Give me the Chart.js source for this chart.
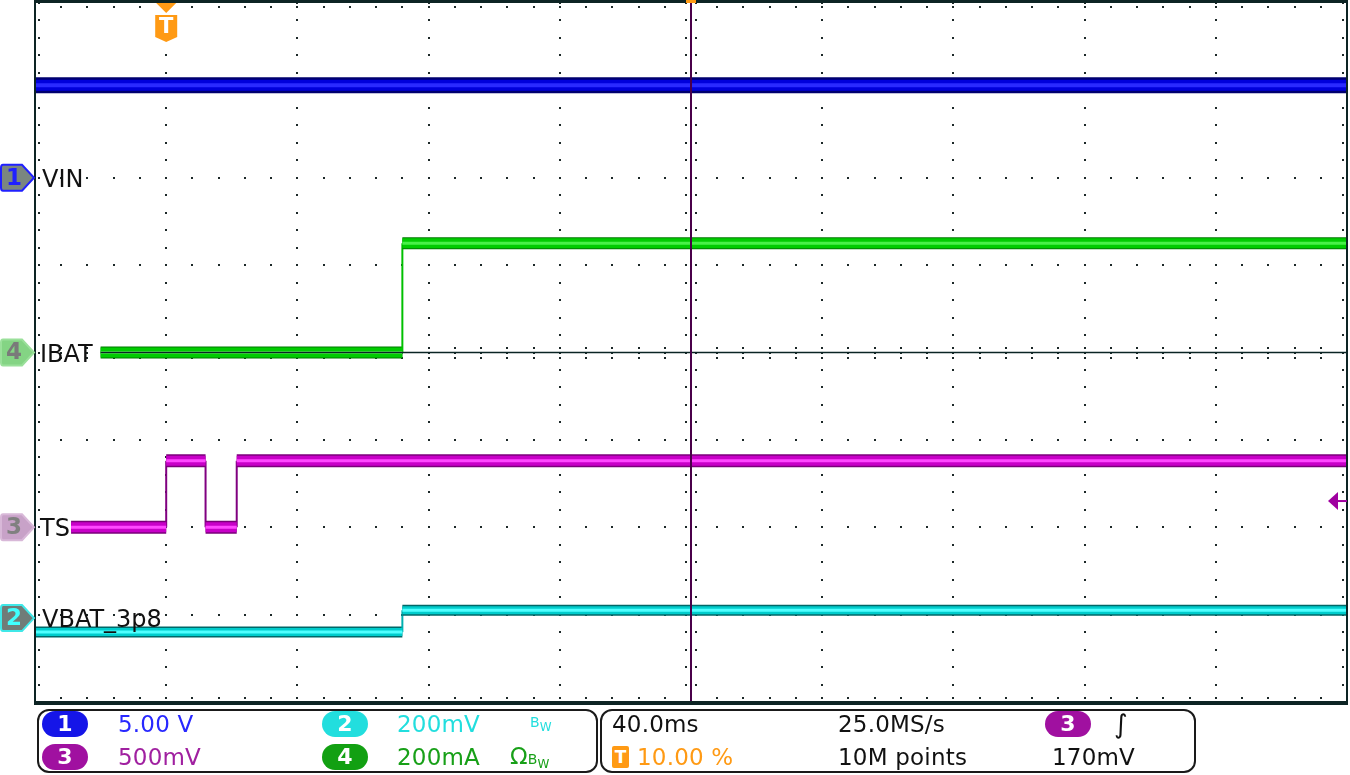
<!DOCTYPE html>
<html lang="en">
<head>
<meta charset="UTF-8">
<title>VIN / IBAT / TS / VBAT_3p8 capture</title>
<script src="https://cdn.jsdelivr.net/npm/chart.js"></script>
<style>
  html, body { margin: 0; padding: 0; background: #fff; }
  #wrap { position: relative; width: 1350px; height: 775px; overflow: hidden; font-family: "DejaVu Sans", sans-serif; }
  #scope { position: absolute; left: 0; top: 0; }
  .ch-label { position: absolute; font-size: 24px; line-height: 1; color: #111; white-space: nowrap; transform: translateY(-50%); }
  .box { position: absolute; top: 709px; height: 64px; border: 2px solid #1a1a1a; border-radius: 12px; box-sizing: border-box; }
  .txt { position: absolute; font-size: 23px; line-height: 1; white-space: nowrap; transform: translateY(-50%); letter-spacing: 0.2px; }
  .pill { position: absolute; width: 46px; height: 26px; border-radius: 13px; color: #fff; font-size: 22px; font-weight: bold; text-align: center; line-height: 26px; transform: translateY(-50%); }
  .bw { font-size: 14px; }
  .bw sub { font-size: 12px; vertical-align: -4px; }
  .r1 { top: 724px; }
  .r2 { top: 757px; }
</style>
</head>
<body>
<div id="wrap">
  <canvas id="scope" width="1350" height="775"></canvas>

  <div class="box" style="left:37px; width:561px;"></div>
  <div class="box" style="left:600px; width:596px;"></div>

  <div class="pill r1" style="left:42px; background:#1515e8;">1</div>
  <div class="txt r1" style="left:118px; color:#2828ff;">5.00 V</div>
  <div class="pill r1" style="left:322px; background:#22dede;">2</div>
  <div class="txt r1" style="left:397px; color:#22dede;">200mV</div>
  <div class="txt r1 bw" style="left:530px; color:#22dede;">B<sub>W</sub></div>

  <div class="pill r2" style="left:42px; background:#a010a0;">3</div>
  <div class="txt r2" style="left:118px; color:#a020a0;">500mV</div>
  <div class="pill r2" style="left:322px; background:#12a012;">4</div>
  <div class="txt r2" style="left:397px; color:#18a018;">200mA</div>
  <div class="txt r2" style="left:510px; color:#18a018;">Ω<span class="bw">B<sub>W</sub></span></div>

  <div class="txt r1" style="left:612px; color:#111;">40.0ms</div>
  <div class="txt r1" style="left:838px; color:#111;">25.0MS/s</div>
  <div class="pill r1" style="left:1045px; background:#a010a0;">3</div>
  <div class="txt r1" style="left:1114px; color:#111; font-size:26px;">∫</div>

  <div class="pill r2" style="left:612px; width:17px; height:22px; border-radius:2px; background:#ff9a14; font-size:17px; line-height:22px;">T</div>
  <div class="txt r2" style="left:637px; color:#ff9a14;">10.00 %</div>
  <div class="txt r2" style="left:838px; color:#111;">10M points</div>
  <div class="txt r2" style="left:1052px; color:#111;">170mV</div>
</div>

<script>
// time axis in ms (40 ms/div, trigger at 10 %), levels in screen divisions
const timeMin = -40, timeMax = 360, msPerDiv = 40;
const levelMin = -4, levelMax = 4;

const vinTime  = [-40, 360];
const vinLevel = [3.06, 3.06];

const ibatTime  = [-20, 72, 72, 360];
const ibatLevel = [0, 0, 1.25, 1.25];

const tsTime  = [-29, 0, 0, 12, 12, 21.5, 21.5, 360];
const tsLevel = [-2, -2, -1.24, -1.24, -2, -2, -1.24, -1.24];

const vbatTime  = [-40, 72, 72, 360];
const vbatLevel = [-3.2, -3.2, -2.95, -2.95];

const refTime  = [-20, 360];
const refLevel = [0, 0];

const markerChannels = ['1', '4', '3', '2'];
const markerNames    = ['VIN', 'IBAT', 'TS', 'VBAT_3p8'];
const markerLevels   = [2, 0, -2, -3.04];

const trigTime  = 0;
const trigLevel = -1.7;

const NONE = 'rgba(0,0,0,0)';

function layer(time, level, color, width, edgeColor, edgeWidth, order) {
    return {
        data: time.map((t, i) => ({ x: t, y: level[i] })),
        borderColor: color,
        borderWidth: width,
        pointRadius: 0,
        tension: 0,
        fill: false,
        borderCapStyle: 'butt',
        borderJoinStyle: 'miter',
        order: order,
        segment: {
            borderWidth: c => c.p0.parsed.x === c.p1.parsed.x ? edgeWidth : width,
            borderColor: c => c.p0.parsed.x === c.p1.parsed.x ? edgeColor : color
        }
    };
}

// each trace is a dark wide band, a coloured body and a light core
const datasets = [
    layer(vinTime, vinLevel, '#00006e', 16, '#0000d0', 2, 30),
    layer(vinTime, vinLevel, '#0000dc', 11, NONE, 1, 20),
    layer(vinTime, vinLevel, '#2a2aff', 4, NONE, 1, 10),

    layer(ibatTime, ibatLevel, '#007a00', 12, '#00c000', 2, 30),
    layer(ibatTime, ibatLevel, '#00cc00', 10, NONE, 1, 20),
    layer(ibatTime, ibatLevel, '#48f048', 3, NONE, 1, 10),

    layer(tsTime, tsLevel, '#7a007a', 13, '#800080', 2, 30),
    layer(tsTime, tsLevel, '#c800c8', 10, NONE, 1, 20),
    layer(tsTime, tsLevel, '#ff48ff', 3, NONE, 1, 10),

    layer(vbatTime, vbatLevel, '#006868', 11, '#00b0b0', 2, 30),
    layer(vbatTime, vbatLevel, '#00cccc', 8, NONE, 1, 20),
    layer(vbatTime, vbatLevel, '#50ffff', 3, NONE, 1, 10),

    layer(refTime, refLevel, '#0a2424', 1.5, NONE, 1, 0)
];

const scopeGrid = {
    id: 'scopeGrid',
    beforeDatasetsDraw(chart) {
        const { ctx, chartArea: a, scales: { x, y } } = chart;
        const xMajors = (timeMax - timeMin) / msPerDiv;
        const yMajors = levelMax - levelMin;
        const dot = (px, py) => ctx.fillRect(Math.round(px) - 1, Math.round(py) - 1, 2, 2);
        ctx.save();
        ctx.fillStyle = '#1c2828';
        // dotted majors, one dot per fifth of a division
        for (let i = 1; i < xMajors; i++) {
            const px = x.getPixelForValue(timeMin + i * msPerDiv);
            for (let j = 0; j <= yMajors * 5; j++) dot(px, y.getPixelForValue(levelMin + j / 5));
        }
        for (let i = 1; i < yMajors; i++) {
            const py = y.getPixelForValue(levelMin + i);
            for (let j = 0; j <= xMajors * 5; j++) dot(x.getPixelForValue(timeMin + j * msPerDiv / 5), py);
        }
        // ticks on the centre axes and inside the frame
        const cx = x.getPixelForValue((timeMin + timeMax) / 2);
        const cy = y.getPixelForValue((levelMin + levelMax) / 2);
        for (let j = 0; j <= yMajors * 5; j++) {
            const py = y.getPixelForValue(levelMin + j / 5);
            dot(cx - 5, py); dot(cx + 5, py);
            dot(a.left + 4, py); dot(a.right - 4, py);
        }
        for (let j = 0; j <= xMajors * 5; j++) {
            const px = x.getPixelForValue(timeMin + j * msPerDiv / 5);
            dot(px, cy - 5); dot(px, cy + 5);
            dot(px, a.top + 4); dot(px, a.bottom - 4);
        }
        ctx.restore();
    },
    afterDatasetsDraw(chart) {
        const { ctx, chartArea: a, scales: { x, y } } = chart;
        ctx.save();
        // time reference line
        const cx = Math.round(x.getPixelForValue((timeMin + timeMax) / 2));
        ctx.fillStyle = '#4a004a';
        ctx.fillRect(cx - 1, 0, 2, a.bottom);
        // frame
        ctx.fillStyle = '#0d2424';
        ctx.fillRect(a.left - 1, 0, a.right - a.left + 2, 3);
        ctx.fillRect(a.left - 1, 0, 2, a.bottom + 2);
        ctx.fillRect(a.right - 1, 0, 2, a.bottom + 2);
        ctx.fillRect(a.left - 1, a.bottom - 1, a.right - a.left + 2, 4);
        ctx.fillStyle = '#ff9a14';
        ctx.fillRect(cx - 5, 0, 10, 3);
        ctx.restore();
    },
    afterDraw(chart) {
        const { ctx, chartArea: a, scales: { x, y } } = chart;
        ctx.save();
        // trigger position marker
        const tx = x.getPixelForValue(trigTime);
        ctx.fillStyle = '#ff9a14';
        ctx.beginPath();
        ctx.moveTo(tx - 10, 3); ctx.lineTo(tx + 10, 3); ctx.lineTo(tx, 13); ctx.closePath();
        ctx.fill();
        ctx.beginPath();
        ctx.moveTo(tx - 11, 15); ctx.lineTo(tx + 11, 15); ctx.lineTo(tx + 11, 37);
        ctx.lineTo(tx, 42); ctx.lineTo(tx - 11, 37); ctx.closePath();
        ctx.fill();
        ctx.fillStyle = '#fff';
        ctx.font = 'bold 21px "DejaVu Sans"';
        ctx.textAlign = 'center';
        ctx.textBaseline = 'middle';
        ctx.fillText('T', tx, 28);

        // trigger level arrow
        const ly = y.getPixelForValue(trigLevel);
        ctx.fillStyle = '#a000a0';
        ctx.beginPath();
        ctx.moveTo(a.right - 19, ly); ctx.lineTo(a.right - 9, ly - 9); ctx.lineTo(a.right - 9, ly + 9); ctx.closePath();
        ctx.fill();
        ctx.fillRect(a.right - 10, ly - 1, 10, 2);

        // channel offset markers
        const looks = {
            '1': { fill: '#7a8680', edge: '#2020ff', text: '#2020ff' },
            '4': { fill: '#84d484', edge: '#9ae09a', text: '#7a7a7a' },
            '3': { fill: '#c8a2c8', edge: '#d8b8d8', text: '#808080' },
            '2': { fill: '#707c78', edge: '#40e8e8', text: '#40ffff' }
        };
        markerChannels.forEach((ch, i) => {
            const my = y.getPixelForValue(markerLevels[i]);
            const s = looks[ch];
            ctx.beginPath();
            ctx.moveTo(3, my - 13); ctx.lineTo(22, my - 13); ctx.lineTo(34, my);
            ctx.lineTo(22, my + 13); ctx.lineTo(3, my + 13);
            ctx.quadraticCurveTo(1, my + 13, 1, my + 10);
            ctx.lineTo(1, my - 10);
            ctx.quadraticCurveTo(1, my - 13, 3, my - 13);
            ctx.closePath();
            ctx.fillStyle = s.fill;
            ctx.fill();
            ctx.lineWidth = 2;
            ctx.strokeStyle = s.edge;
            ctx.stroke();
            ctx.fillStyle = s.text;
            ctx.font = 'bold 23px "DejaVu Sans"';
            ctx.fillText(ch, 14, my + 1);
        });
        ctx.restore();
    }
};

const chart = new Chart(document.getElementById('scope'), {
    type: 'line',
    data: { datasets: datasets },
    options: {
        responsive: false,
        animation: false,
        events: [],
        layout: { padding: { left: 35, right: 3, top: 3, bottom: 73 } },
        plugins: { legend: { display: false }, tooltip: { enabled: false } },
        scales: {
            x: { type: 'linear', min: timeMin, max: timeMax, display: false },
            y: { type: 'linear', min: levelMin, max: levelMax, display: false }
        }
    },
    plugins: [scopeGrid]
});

// channel names sit next to their offset markers
const wrap = document.getElementById('wrap');
markerNames.forEach((name, i) => {
    const el = document.createElement('div');
    el.className = 'ch-label';
    el.textContent = name;
    el.style.left = (name === 'IBAT' || name === 'TS' ? 40 : 42) + 'px';
    el.style.top = (chart.scales.y.getPixelForValue(markerLevels[i]) + 1) + 'px';
    wrap.appendChild(el);
});
</script>
</body>
</html>
